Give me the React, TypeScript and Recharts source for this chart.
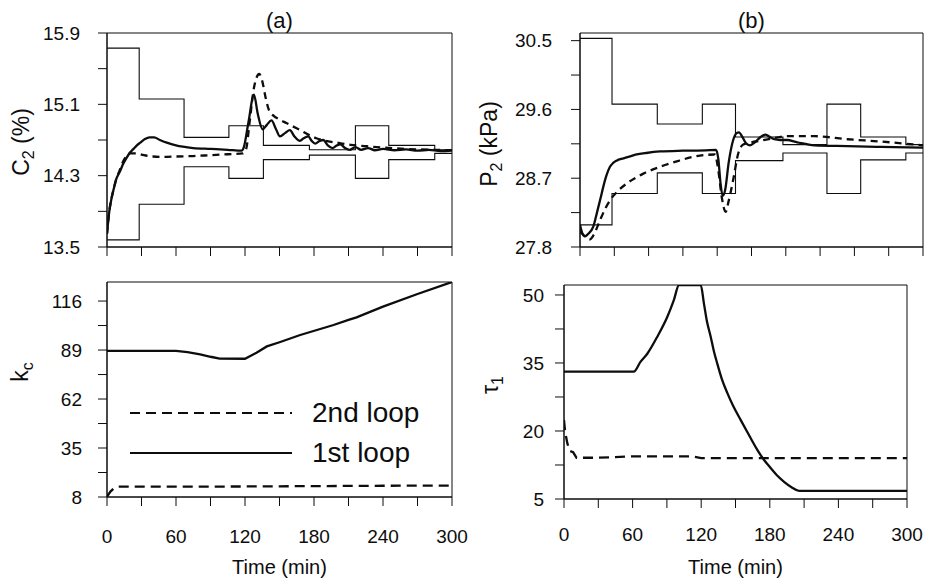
import React from "react";
import { LineChart, Line, XAxis, YAxis, ReferenceArea, Legend } from "recharts";

type Pt = [number, number];

// time axis
const timeTicks = [0, 30, 60, 90, 120, 150, 180, 210, 240, 270, 300];
const timeLabels = [0, 60, 120, 180, 240, 300];

// (a) top: C2 (%)
const c2Ticks = [13.5, 13.9, 14.3, 14.7, 15.1, 15.5, 15.9];
const c2Labels = [13.5, 14.3, 15.1, 15.9];
const c2Upper: Pt[] = [[0, 15.73], [28, 15.16], [67, 14.73], [106, 14.86], [136, 14.64], [176, 14.59], [216, 14.86], [245, 14.64], [285, 14.59], [300, 14.59]];
const c2Lower: Pt[] = [[0, 13.58], [28, 13.98], [67, 14.4], [106, 14.27], [136, 14.48], [176, 14.53], [216, 14.27], [245, 14.48], [285, 14.55], [300, 14.55]];
const c2First: Pt[] = [
  [0, 13.65], [2, 13.9], [4, 14.05], [6, 14.16], [8, 14.26], [11, 14.34], [14, 14.43], [17, 14.5], [20, 14.56],
  [23, 14.6], [26, 14.64], [29, 14.67], [33, 14.71], [37, 14.73], [41, 14.73], [46, 14.7], [52, 14.67],
  [60, 14.64], [66, 14.625], [75, 14.61], [90, 14.6], [105, 14.59], [117, 14.58], [119, 14.62], [123, 14.9],
  [127.8, 15.21], [131, 15.0], [135.4, 14.82], [139, 14.87], [143, 14.92], [147, 14.82], [150.4, 14.74],
  [155, 14.78], [159, 14.81], [163, 14.74], [167.8, 14.69], [171, 14.72], [175, 14.74], [178, 14.69],
  [181, 14.66], [185, 14.69], [188, 14.7], [192, 14.64], [196, 14.61], [200, 14.64], [203, 14.65],
  [207, 14.61], [211, 14.59], [216, 14.62], [221, 14.59], [227, 14.61], [233, 14.585], [240, 14.6],
  [250, 14.585], [260, 14.595], [270, 14.58], [280, 14.59], [290, 14.575], [300, 14.585],
];
const c2Second: Pt[] = [
  [0, 13.65], [2, 13.9], [4, 14.05], [6, 14.16], [8, 14.26], [11, 14.36], [14, 14.46], [17, 14.52], [20, 14.55],
  [25, 14.55], [32, 14.53], [40, 14.515], [50, 14.51], [60, 14.515], [75, 14.52], [90, 14.53], [105, 14.54],
  [118, 14.55], [121, 14.6], [124, 14.9], [128, 15.3], [132.4, 15.44], [135, 15.36], [138, 15.17],
  [141, 15.03], [145, 14.97], [150, 14.93], [156, 14.89], [162, 14.85], [168, 14.81], [175, 14.76],
  [182, 14.72], [190, 14.69], [200, 14.67], [212, 14.645], [226, 14.63], [240, 14.615], [260, 14.6],
  [283, 14.59], [300, 14.585],
];

// (b) top: P2 (kPa)
const p2Ticks = [27.8, 28.25, 28.7, 29.15, 29.6, 30.05, 30.5];
const p2Labels = [27.8, 28.7, 29.6, 30.5];
const p2Upper: Pt[] = [[0, 30.53], [28, 29.67], [67.6, 29.41], [107, 29.67], [136, 29.24], [177.5, 29.14], [216, 29.67], [245.5, 29.24], [285, 29.14], [300, 29.14]];
const p2Lower: Pt[] = [[0, 28.09], [28, 28.5], [67.6, 28.77], [107, 28.5], [136, 28.93], [177.5, 29.03], [216, 28.5], [245.5, 28.94], [285, 29.03], [300, 29.03]];
const p2First: Pt[] = [
  [0, 28.09], [2, 27.98], [4.4, 27.94], [7, 27.97], [11.7, 28.07], [15, 28.26], [18, 28.44], [20.4, 28.59],
  [23, 28.73], [26.2, 28.85], [29, 28.9], [32, 28.93], [38, 28.96], [46.6, 29.0], [58, 29.03], [70, 29.05],
  [90, 29.06], [110, 29.065], [119, 29.07], [121, 28.95], [123, 28.62], [124.8, 28.47], [127, 28.55],
  [130, 28.9], [134, 29.2], [137, 29.29], [139, 29.3], [142, 29.24], [145, 29.16], [148.7, 29.13],
  [153, 29.17], [158, 29.24], [162.4, 29.27], [166, 29.24], [170, 29.21], [175, 29.2], [181, 29.2],
  [190, 29.17], [205, 29.13], [234, 29.12], [263, 29.11], [300, 29.1],
];
const p2Second: Pt[] = [
  [0, 28.0], [4.4, 27.94], [8.7, 27.9], [12, 27.96], [17.5, 28.15], [22, 28.3], [26.2, 28.41], [33, 28.53],
  [40.8, 28.63], [48, 28.7], [55.4, 28.76], [70, 28.85], [84.6, 28.92], [99.2, 28.98], [118, 29.01],
  [121, 28.8], [124, 28.45], [127.4, 28.26], [130, 28.4], [134, 28.68], [138.5, 29.03], [142.8, 29.14],
  [150, 29.17], [157.4, 29.19], [172, 29.23], [180, 29.25], [205, 29.25], [234, 29.21], [263, 29.18], [300, 29.13],
];

// (a) bottom: kc
const kcTicks = [8, 21.5, 35, 48.5, 62, 75.5, 89, 102.5, 116];
const kcLabels = [8, 35, 62, 89, 116];
const kcFirst: Pt[] = [
  [0, 88.5], [60, 88.5], [70, 87.8], [81, 86.6], [90, 85.3], [98, 84.3], [120, 84.2], [130, 87.5], [139, 91],
  [150, 93.3], [168, 97.3], [197, 102.8], [210, 105.6], [217, 107], [240, 112.9], [270, 119.9], [300, 126.5],
];
const kcSecond: Pt[] = [[0, 8.2], [3, 11], [6, 12.8], [10, 13.7], [60, 13.7], [120, 13.8], [180, 14], [240, 14.2], [300, 14.3]];

// (b) bottom: tau1
const tauTicks = [5, 12.5, 20, 27.5, 35, 42.5, 50];
const tauLabels = [5, 20, 35, 50];
const tauFirst: Pt[] = [
  [0, 33.1], [61, 33.1], [67, 35.3], [73, 37.1], [81.6, 40.8], [90.4, 45.2], [96, 48.8], [100.6, 52.2],
  [119.6, 52.2], [122.4, 48.1], [125, 44.2], [128.3, 40.8], [131, 37.7], [134, 34.9], [138, 31.5], [143, 28.3],
  [148, 25.5], [154.6, 22.4], [162, 19], [169.2, 15.8], [175, 13.6], [180.9, 11.8], [186, 10.3], [192.5, 8.8],
  [199, 7.6], [205.6, 6.8], [300, 6.8],
];
const tauSecond: Pt[] = [[0, 22.4], [1, 19.8], [3, 17.2], [5, 15.6], [8, 15.3], [11, 14.1], [30, 14.1], [60, 14.4], [112, 14.4], [120, 14.0], [300, 14.0]];

const legendItems = [
  { label: "2nd loop", dash: "10 6" },
  { label: "1st loop", dash: undefined as string | undefined },
];

const FONT = '"Liberation Sans", Arial, Helvetica, sans-serif';
const INK = "#0d0d0d";

const rows = (pts: Pt[]) => pts.map(([t, v]) => ({ t, v }));

function VTitle({ x, y, main, sub, rest }: { x: number; y: number; main: string; sub: string; rest?: string }) {
  return (
    <text x={x} y={y} transform={`rotate(-90 ${x} ${y})`} textAnchor="middle" fontSize={23} fill={INK} fontFamily={FONT}>
      {main}
      <tspan fontSize={16} dy={5}>{sub}</tspan>
      {rest ? <tspan dy={-5}>{rest}</tspan> : null}
    </text>
  );
}

type PanelProps = {
  box: [number, number, number, number];
  margin: { top: number; right: number; bottom: number; left: number };
  yDomain: [number, number];
  yTicks: number[];
  yLabels: number[];
  yTickMargin: number;
  showTime: boolean;
  timeTickMargin?: number;
  timeOffset?: number;
  title?: string;
  yTitle: React.ReactElement;
  children: React.ReactNode;
};

function Panel(p: PanelProps) {
  return (
    <div style={{ position: "absolute", left: p.box[0], top: p.box[1] }}>
      <LineChart width={p.box[2]} height={p.box[3]} margin={p.margin} style={{ fontFamily: FONT }}>
        <XAxis
          type="number"
          dataKey="t"
          domain={[0, 300]}
          ticks={timeTicks}
          interval={0}
          allowDataOverflow
          height={p.showTime ? 80 : 30}
          tickSize={9}
          tickMargin={p.timeTickMargin ?? 2}
          stroke={INK}
          tick={{ fontSize: 19, fill: INK }}
          tickFormatter={(v: number) => (p.showTime && timeLabels.includes(v) ? String(v) : "")}
          label={p.showTime ? { value: "Time (min)", position: "insideBottom", offset: p.timeOffset, fontSize: 20, fill: INK } : undefined}
        />
        <YAxis
          type="number"
          domain={p.yDomain}
          ticks={p.yTicks}
          interval={0}
          allowDataOverflow
          width={80}
          tickSize={9}
          tickMargin={p.yTickMargin}
          stroke={INK}
          tick={{ fontSize: 19, fill: INK }}
          tickFormatter={(v: number) => (p.yLabels.includes(v) ? String(v) : "")}
          label={{ content: () => p.yTitle }}
        />
        <ReferenceArea
          x1={0}
          x2={300}
          y1={p.yDomain[0]}
          y2={p.yDomain[1]}
          fill="none"
          fillOpacity={0}
          stroke={INK}
          strokeWidth={1}
          label={p.title ? { value: p.title, position: "top", offset: 5, fontSize: 22, fill: INK } : undefined}
        />
        {p.children}
      </LineChart>
    </div>
  );
}

const thin = { stroke: INK, strokeWidth: 1.1, dot: false, isAnimationActive: false, type: "stepAfter" as const };
const thick = { stroke: INK, strokeWidth: 2.3, dot: false, isAnimationActive: false };

export default function App() {
  return (
    <div style={{ position: "absolute", left: 0, top: 0, width: 928, height: 581, background: "#fff" }}>
      <Panel
        box={[0, 0, 490, 290]}
        margin={{ top: 33, right: 38, bottom: 13, left: 27 }}
        yDomain={[13.5, 15.9]}
        yTicks={c2Ticks}
        yLabels={c2Labels}
        yTickMargin={18}
        showTime={false}
        title="(a)"
        yTitle={<VTitle x={29} y={142} main="C" sub="2" rest=" (%)" />}
      >
        <Line data={rows(c2Upper)} dataKey="v" {...thin} />
        <Line data={rows(c2Lower)} dataKey="v" {...thin} />
        <Line data={rows(c2Second)} dataKey="v" type="monotone" {...thick} strokeDasharray="7 5" />
        <Line data={rows(c2First)} dataKey="v" type="monotone" {...thick} />
      </Panel>

      <Panel
        box={[464, 0, 464, 290]}
        margin={{ top: 33, right: 5, bottom: 13, left: 36 }}
        yDomain={[27.8, 30.6]}
        yTicks={p2Ticks}
        yLabels={p2Labels}
        yTickMargin={19}
        showTime={false}
        title="(b)"
        yTitle={<VTitle x={33} y={144} main="P" sub="2" rest=" (kPa)" />}
      >
        <Line data={rows(p2Upper)} dataKey="v" {...thin} />
        <Line data={rows(p2Lower)} dataKey="v" {...thin} />
        <Line data={rows(p2Second)} dataKey="v" type="monotone" {...thick} strokeDasharray="7 5" />
        <Line data={rows(p2First)} dataKey="v" type="monotone" {...thick} />
      </Panel>

      <Panel
        box={[0, 270, 490, 311]}
        margin={{ top: 12, right: 38, bottom: 4, left: 27 }}
        yDomain={[8, 126.5]}
        yTicks={kcTicks}
        yLabels={kcLabels}
        yTickMargin={16}
        showTime
        timeTickMargin={24}
        timeOffset={3}
        yTitle={<VTitle x={28} y={102} main="k" sub="c" />}
      >
        <Line data={rows(kcSecond)} dataKey="v" type="linear" {...thick} strokeDasharray="10 6" />
        <Line data={rows(kcFirst)} dataKey="v" type="linear" {...thick} />
        <Legend
          layout="vertical"
          align="center"
          verticalAlign="middle"
          wrapperStyle={{ position: "absolute", left: 130, top: 123, width: 300 }}
          content={() => (
            <div style={{ fontFamily: FONT }}>
              {legendItems.map((it) => (
                <div key={it.label} style={{ display: "flex", alignItems: "center", height: 40 }}>
                  <svg width={162} height={6}>
                    <line x1={0} x2={162} y1={3} y2={3} stroke={INK} strokeWidth={2.2} strokeDasharray={it.dash} />
                  </svg>
                  <span style={{ marginLeft: 20, fontSize: 28, color: INK, lineHeight: "40px" }}>{it.label}</span>
                </div>
              ))}
            </div>
          )}
        />
      </Panel>

      <Panel
        box={[464, 270, 464, 311]}
        margin={{ top: 15, right: 21, bottom: 2, left: 20 }}
        yDomain={[5, 52.2]}
        yTicks={tauTicks}
        yLabels={tauLabels}
        yTickMargin={11}
        showTime
        timeTickMargin={20}
        timeOffset={5}
        yTitle={<VTitle x={34} y={115} main="τ" sub="1" />}
      >
        <Line data={rows(tauSecond)} dataKey="v" type="linear" {...thick} strokeDasharray="10 6" />
        <Line data={rows(tauFirst)} dataKey="v" type="monotone" {...thick} />
      </Panel>
    </div>
  );
}
